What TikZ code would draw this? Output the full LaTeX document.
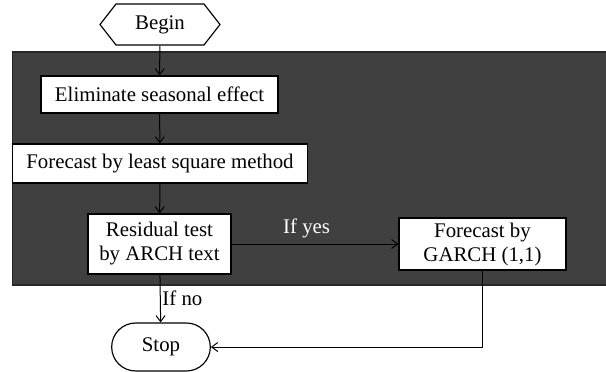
\documentclass[tikz,border=0pt]{standalone}
\usepackage{fontspec}
\setmainfont{Liberation Serif}
\usetikzlibrary{shapes.symbols,shapes.misc,arrows.meta}
\tikzset{
  stepbox/.style={draw,fill=white,align=center,inner sep=1pt,line width=0.7pt},
  flow/.style={-{Straight Barb[length=3.6pt,width=5.4pt]},line width=0.6pt}
}
\begin{document}
\begin{tikzpicture}[x=0.6pt,y=-0.6pt,font=\fontsize{12.5}{14.4}\selectfont]
\useasboundingbox (0,0) rectangle (606,372);
\fill[fill=black!75,draw=black!85,line width=0.7pt] (12.7,52) rectangle (607,285);
\node[stepbox,signal,signal to=west and east,signal pointer angle=104,minimum width=72pt,minimum height=24.6pt] (begin) at (160,24.5) {Begin};
\node[stepbox,minimum width=142.2pt,minimum height=22.2pt] (elim) at (159.5,94.5) {Eliminate seasonal effect};
\node[stepbox,minimum width=177pt,minimum height=23.4pt] (lsq) at (160,163.5) {Forecast by least square method};
\node[stepbox,minimum width=85.8pt,minimum height=36pt] (resid) at (159.5,244) {Residual test\\by ARCH text};
\node[stepbox,minimum width=100.2pt,minimum height=31.2pt] (garch) at (482.5,244) {Forecast by\\GARCH (1,1)};
\node[stepbox,rounded rectangle,minimum width=61.2pt,minimum height=28.8pt] (stop) at (161,347) {Stop};
\draw[flow] (begin) -- (elim);
\draw[flow] (elim) -- (lsq);
\draw[flow] (lsq) -- (resid);
\draw[flow] (resid) -- node[pos=0.45,above,text=white]{If yes} (garch);
\draw[flow] (resid) -- node[right,inner sep=1pt]{If no} (stop);
\draw[flow] (garch.south) |- (stop.east);
\end{tikzpicture}
\end{document}
